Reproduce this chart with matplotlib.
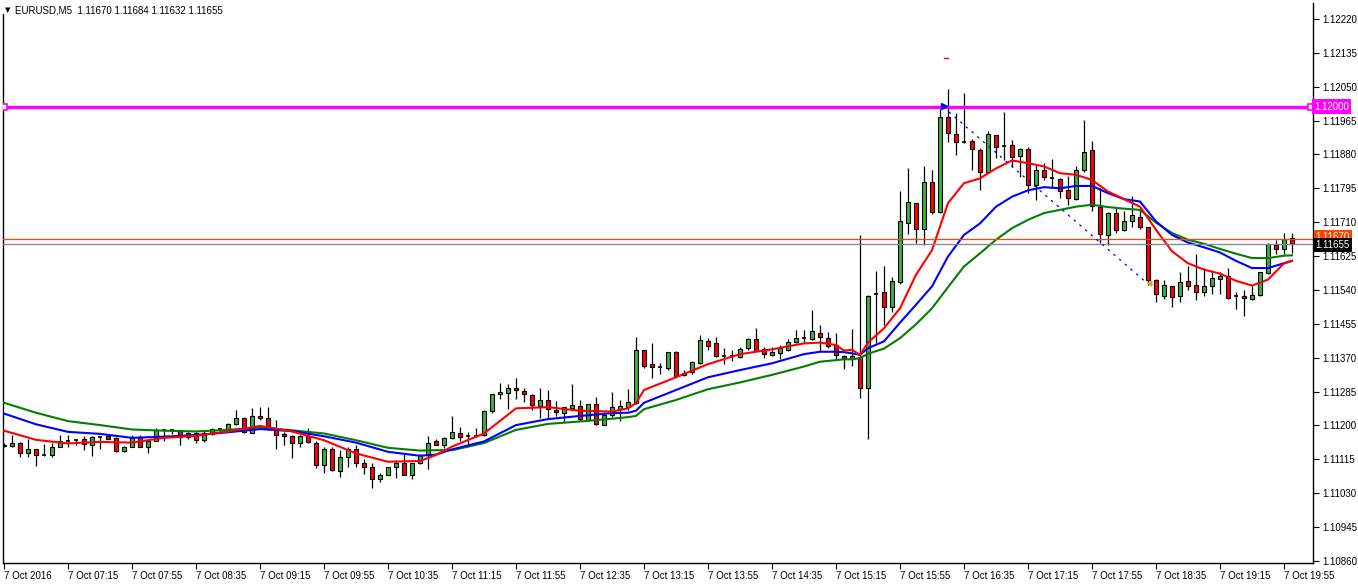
import matplotlib
matplotlib.use("Agg")
import matplotlib.pyplot as plt
import matplotlib.transforms as mtransforms
from matplotlib.patches import Rectangle
import numpy as np

plt.rcParams['font.family'] = ['Liberation Sans', 'DejaVu Sans']

# ---------------- data (EURUSD M5, bars from 06:35 to 20:00) ----------------
opens = [1.11148, 1.11148, 1.11157, 1.11130, 1.11140, 1.11125, 1.11126, 1.11147, 1.11162, 1.11163,
         1.11166, 1.11150, 1.11171, 1.11173, 1.11168, 1.11135, 1.11147, 1.11172, 1.11146, 1.11162,
         1.11188, 1.11188, 1.11188, 1.11171, 1.11181, 1.11163, 1.11178, 1.11190, 1.11188, 1.11203,
         1.11220, 1.11182, 1.11225, 1.11220, 1.11190, 1.11178, 1.11173, 1.11155, 1.11173, 1.11157,
         1.11100, 1.11142, 1.11085, 1.11122, 1.11141, 1.11107, 1.11095, 1.11065, 1.11077, 1.11095,
         1.11105, 1.11077, 1.11105, 1.11127, 1.11161, 1.11151, 1.11168, 1.11180, 1.11174, 1.11173,
         1.11175, 1.11237, 1.11278, 1.11281, 1.11293, 1.11287, 1.11276, 1.11248, 1.11263, 1.11239,
         1.11231, 1.11244, 1.11248, 1.11214, 1.11253, 1.11202, 1.11226, 1.11242, 1.11247, 1.11257,
         1.11389, 1.11354, 1.11346, 1.11345, 1.11384, 1.11326, 1.11333, 1.11356, 1.11413, 1.11407,
         1.11374, 1.11374, 1.11371, 1.11394, 1.11416, 1.11391, 1.11376, 1.11383, 1.11390, 1.11409,
         1.11419, 1.11416, 1.11433, 1.11420, 1.11401, 1.11374, 1.11369, 1.11373, 1.11294, 1.11529,
         1.11534, 1.11497, 1.11559, 1.11707, 1.11758, 1.11692, 1.11810, 1.11736, 1.11973, 1.11931,
         1.11912, 1.11913, 1.11891, 1.11837, 1.11928, 1.11900, 1.11903, 1.11875, 1.11893, 1.11803,
         1.11840, 1.11820, 1.11818, 1.11791, 1.11768, 1.11840, 1.11890, 1.11749, 1.11678, 1.11734,
         1.11691, 1.11712, 1.11724, 1.11697, 1.11566, 1.11526, 1.11549, 1.11524, 1.11562, 1.11552,
         1.11534, 1.11551, 1.11567, 1.11574, 1.11526, 1.11525, 1.11517, 1.11527, 1.11582, 1.11652,
         1.11642, 1.11670]
highs = [1.11155, 1.11176, 1.11158, 1.11165, 1.11141, 1.11153, 1.11157, 1.11175, 1.11176, 1.11167,
         1.11174, 1.11174, 1.11174, 1.11175, 1.11172, 1.11148, 1.11175, 1.11176, 1.11164, 1.11193,
         1.11189, 1.11190, 1.11188, 1.11183, 1.11183, 1.11187, 1.11193, 1.11193, 1.11205, 1.11239,
         1.11222, 1.11243, 1.11246, 1.11246, 1.11215, 1.11183, 1.11175, 1.11175, 1.11193, 1.11160,
         1.11145, 1.11145, 1.11138, 1.11145, 1.11150, 1.11115, 1.11105, 1.11081, 1.11097, 1.11113,
         1.11130, 1.11107, 1.11128, 1.11173, 1.11166, 1.11170, 1.11224, 1.11196, 1.11183, 1.11193,
         1.11239, 1.11280, 1.11306, 1.11303, 1.11319, 1.11293, 1.11278, 1.11293, 1.11289, 1.11262,
         1.11247, 1.11304, 1.11264, 1.11255, 1.11272, 1.11235, 1.11284, 1.11263, 1.11291, 1.11422,
         1.11390, 1.11406, 1.11358, 1.11385, 1.11388, 1.11339, 1.11362, 1.11427, 1.11419, 1.11423,
         1.11394, 1.11390, 1.11396, 1.11419, 1.11444, 1.11398, 1.11396, 1.11402, 1.11416, 1.11440,
         1.11440, 1.11490, 1.11453, 1.11435, 1.11431, 1.11377, 1.11441, 1.11678, 1.11527, 1.11588,
         1.11600, 1.11573, 1.11788, 1.11847, 1.11758, 1.11851, 1.11841, 1.11994, 1.12044, 1.11983,
         1.12035, 1.11918, 1.11895, 1.11940, 1.11929, 1.11987, 1.11916, 1.11895, 1.11898, 1.11854,
         1.11858, 1.11868, 1.11820, 1.11826, 1.11852, 1.11967, 1.11914, 1.11796, 1.11736, 1.11749,
         1.11739, 1.11775, 1.11741, 1.11699, 1.11567, 1.11566, 1.11551, 1.11586, 1.11599, 1.11631,
         1.11595, 1.11591, 1.11586, 1.11595, 1.11536, 1.11540, 1.11549, 1.11585, 1.11658, 1.11666,
         1.11683, 1.11684]
lows = [1.11145, 1.11147, 1.11121, 1.11121, 1.11099, 1.11123, 1.11120, 1.11146, 1.11146, 1.11151,
        1.11138, 1.11124, 1.11141, 1.11165, 1.11134, 1.11134, 1.11145, 1.11145, 1.11131, 1.11161,
        1.11162, 1.11178, 1.11151, 1.11167, 1.11157, 1.11158, 1.11177, 1.11182, 1.11186, 1.11201,
        1.11182, 1.11181, 1.11213, 1.11188, 1.11141, 1.11152, 1.11119, 1.11145, 1.11157, 1.11094,
        1.11082, 1.11086, 1.11071, 1.11096, 1.11096, 1.11078, 1.11042, 1.11057, 1.11075, 1.11069,
        1.11075, 1.11067, 1.11103, 1.11090, 1.11151, 1.11143, 1.11166, 1.11160, 1.11147, 1.11170,
        1.11173, 1.11232, 1.11267, 1.11241, 1.11266, 1.11260, 1.11238, 1.11219, 1.11218, 1.11224,
        1.11208, 1.11239, 1.11212, 1.11212, 1.11201, 1.11200, 1.11222, 1.11211, 1.11239, 1.11253,
        1.11345, 1.11319, 1.11330, 1.11339, 1.11323, 1.11324, 1.11329, 1.11354, 1.11389, 1.11373,
        1.11354, 1.11363, 1.11369, 1.11390, 1.11386, 1.11369, 1.11375, 1.11368, 1.11387, 1.11406,
        1.11406, 1.11414, 1.11387, 1.11394, 1.11367, 1.11341, 1.11350, 1.11268, 1.11166, 1.11408,
        1.11451, 1.11484, 1.11555, 1.11680, 1.11659, 1.11653, 1.11731, 1.11734, 1.11912, 1.11879,
        1.11908, 1.11841, 1.11791, 1.11834, 1.11872, 1.11866, 1.11849, 1.11824, 1.11784, 1.11766,
        1.11816, 1.11796, 1.11772, 1.11754, 1.11766, 1.11837, 1.11739, 1.11659, 1.11653, 1.11683,
        1.11689, 1.11699, 1.11693, 1.11553, 1.11511, 1.11517, 1.11497, 1.11511, 1.11540, 1.11515,
        1.11524, 1.11530, 1.11530, 1.11518, 1.11492, 1.11474, 1.11515, 1.11524, 1.11581, 1.11631,
        1.11631, 1.11632]
closes = [1.11151, 1.11157, 1.11130, 1.11140, 1.11125, 1.11126, 1.11147, 1.11162, 1.11162, 1.11164,
          1.11153, 1.11170, 1.11172, 1.11167, 1.11136, 1.11147, 1.11172, 1.11146, 1.11162, 1.11188,
          1.11188, 1.11189, 1.11171, 1.11180, 1.11163, 1.11181, 1.11190, 1.11188, 1.11203, 1.11220,
          1.11183, 1.11225, 1.11220, 1.11190, 1.11177, 1.11173, 1.11155, 1.11173, 1.11158, 1.11102,
          1.11142, 1.11088, 1.11122, 1.11141, 1.11107, 1.11095, 1.11065, 1.11077, 1.11096, 1.11105,
          1.11077, 1.11107, 1.11127, 1.11157, 1.11152, 1.11168, 1.11183, 1.11170, 1.11173, 1.11175,
          1.11237, 1.11278, 1.11284, 1.11293, 1.11288, 1.11278, 1.11251, 1.11263, 1.11241, 1.11233,
          1.11246, 1.11251, 1.11216, 1.11253, 1.11203, 1.11226, 1.11246, 1.11249, 1.11259, 1.11389,
          1.11350, 1.11346, 1.11346, 1.11384, 1.11325, 1.11331, 1.11359, 1.11414, 1.11400, 1.11375,
          1.11374, 1.11373, 1.11393, 1.11416, 1.11388, 1.11379, 1.11384, 1.11394, 1.11410, 1.11420,
          1.11420, 1.11436, 1.11423, 1.11400, 1.11376, 1.11369, 1.11374, 1.11293, 1.11525, 1.11529,
          1.11497, 1.11563, 1.11712, 1.11760, 1.11692, 1.11810, 1.11736, 1.11973, 1.11933, 1.11912,
          1.11912, 1.11893, 1.11837, 1.11931, 1.11898, 1.11899, 1.11873, 1.11893, 1.11803, 1.11841,
          1.11823, 1.11819, 1.11789, 1.11770, 1.11840, 1.11887, 1.11751, 1.11681, 1.11734, 1.11691,
          1.11712, 1.11727, 1.11697, 1.11566, 1.11530, 1.11552, 1.11522, 1.11561, 1.11551, 1.11535,
          1.11549, 1.11570, 1.11574, 1.11520, 1.11526, 1.11520, 1.11527, 1.11585, 1.11655, 1.11642,
          1.11669, 1.11655]

# moving-average lines at these bar positions
ma_bars = [0, 4, 8, 12, 16, 20, 24, 28, 32, 36, 40, 44, 48, 52, 54, 56, 60, 64, 68, 72, 76, 78, 79, 80,
           84, 88, 92, 96, 100, 102, 104, 105, 106, 107, 108, 110, 112, 114, 116, 118, 120, 122, 124,
           126, 128, 130, 132, 134, 136, 138, 140, 142, 144, 146, 148, 150, 152, 154, 156, 158, 160, 161]
ma_red = [1.11187, 1.11164, 1.11155, 1.11159, 1.11157, 1.11169, 1.11174, 1.11185, 1.11199, 1.11185,
          1.11163, 1.11130, 1.11109, 1.11111, 1.11126, 1.11147, 1.11180, 1.11243, 1.11246, 1.11237,
          1.11235, 1.11243, 1.11256, 1.11289, 1.11321, 1.11354, 1.11379, 1.11391, 1.11406, 1.11408,
          1.11402, 1.11388, 1.11390, 1.11377, 1.11408, 1.11444, 1.11494, 1.11578, 1.11640, 1.11758,
          1.11808, 1.11820, 1.11845, 1.11865, 1.11858, 1.11850, 1.11833, 1.11829, 1.11816, 1.11787,
          1.11768, 1.11749, 1.11691, 1.11637, 1.11607, 1.11591, 1.11581, 1.11563, 1.11551, 1.11566,
          1.11607, 1.11613]
ma_blue = [1.11230, 1.11203, 1.11184, 1.11179, 1.11169, 1.11172, 1.11176, 1.11183, 1.11191, 1.11186,
           1.11173, 1.11157, 1.11134, 1.11124, 1.11127, 1.11140, 1.11160, 1.11201, 1.11216, 1.11224,
           1.11231, 1.11232, 1.11237, 1.11257, 1.11289, 1.11321, 1.11339, 1.11356, 1.11379, 1.11385,
           1.11385, 1.11384, 1.11381, 1.11377, 1.11394, 1.11411, 1.11458, 1.11503, 1.11549, 1.11624,
           1.11678, 1.11707, 1.11749, 1.11774, 1.11790, 1.11798, 1.11795, 1.11801, 1.11801, 1.11783,
           1.11768, 1.11762, 1.11712, 1.11678, 1.11659, 1.11647, 1.11634, 1.11613, 1.11595, 1.11595,
           1.11607, 1.11613]
ma_green = [1.11257, 1.11232, 1.11211, 1.11201, 1.11190, 1.11187, 1.11185, 1.11189, 1.11195, 1.11188,
            1.11180, 1.11163, 1.11144, 1.11137, 1.11138, 1.11138, 1.11156, 1.11189, 1.11204, 1.11210,
            1.11217, 1.11221, 1.11224, 1.11241, 1.11264, 1.11291, 1.11308, 1.11327, 1.11348, 1.11360,
            1.11364, 1.11366, 1.11366, 1.11369, 1.11380, 1.11393, 1.11419, 1.11454, 1.11494, 1.11547,
            1.11599, 1.11632, 1.11666, 1.11695, 1.11716, 1.11733, 1.11741, 1.11749, 1.11754, 1.11748,
            1.11744, 1.11741, 1.11709, 1.11683, 1.11666, 1.11656, 1.11643, 1.11631, 1.11620, 1.11620,
            1.11626, 1.11627]

price_ticks = [1.10860, 1.10945, 1.11030, 1.11115, 1.11200, 1.11285, 1.11370, 1.11455, 1.11540,
               1.11625, 1.11710, 1.11795, 1.11880, 1.11965, 1.12050, 1.12135, 1.12220]
time_tick_bars = [0, 8, 16, 24, 32, 40, 48, 56, 64, 72, 80, 88, 96, 104, 112, 120, 128, 136, 144, 152, 160]
time_tick_labels = ["7 Oct 2016", "7 Oct 07:15", "7 Oct 07:55", "7 Oct 08:35", "7 Oct 09:15",
                    "7 Oct 09:55", "7 Oct 10:35", "7 Oct 11:15", "7 Oct 11:55", "7 Oct 12:35",
                    "7 Oct 13:15", "7 Oct 13:55", "7 Oct 14:35", "7 Oct 15:15", "7 Oct 15:55",
                    "7 Oct 16:35", "7 Oct 17:15", "7 Oct 17:55", "7 Oct 18:35", "7 Oct 19:15",
                    "7 Oct 19:55"]
level_line = 1.12000
ask_price = 1.11667
bid_price = 1.11655
trend_bars = [117.4, 142.9]
trend_prices = [1.11999, 1.11557]
title = "EURUSD,M5  1.11670 1.11684 1.11632 1.11655"

# ---------------- figure ----------------
W, H = 1358, 584
fig = plt.figure(figsize=(W / 100, H / 100), dpi=100)
fig.patch.set_facecolor('white')
ax = fig.add_axes([3 / W, 1 - 563 / H, (1313 - 3) / W, (563 - 3) / H])
ax.set_xlim(-0.125, 163.625)
ax.set_ylim(1.10855, 1.12260)

x = np.arange(len(opens))
o = np.array(opens); h = np.array(highs); l = np.array(lows); c = np.array(closes)

GREEN = '#2EB82E'
RED = '#FF0000'

ax.vlines(x, l, h, color='black', lw=0.9, zorder=2)
body_w = 0.62
for i in range(len(x)):
    if abs(c[i] - o[i]) < 0.000025:
        ax.hlines(o[i], x[i] - body_w / 2, x[i] + body_w / 2, color='black', lw=1.2, zorder=3)
    else:
        bottom = min(o[i], c[i])
        ax.bar(x[i], abs(c[i] - o[i]), bottom=bottom, width=body_w,
               color=GREEN if c[i] > o[i] else RED, edgecolor='black', lw=0.8, zorder=3)

ax.plot(ma_bars, ma_green, color='#008000', lw=1.5, zorder=4)
ax.plot(ma_bars, ma_blue, color='#0000FF', lw=1.5, zorder=4)
ax.plot(ma_bars, ma_red, color='#FF0000', lw=1.5, zorder=4)

# horizontal level, ask and bid lines
ax.axhline(level_line, color='#FF00FF', lw=2.4, zorder=5)
ax.plot([0.05, 163.4], [level_line, level_line], ls='none', marker='s', ms=4,
        mfc='white', mec='#FF00FF', mew=1.2, zorder=6)
ax.axhline(ask_price, color='#FF4500', lw=0.9, zorder=5)
ax.axhline(bid_price, color='#778899', lw=0.9, zorder=5)

# trend line with its markers
ax.plot(trend_bars, trend_prices, color='#0000FF', lw=0.9, ls=(0, (2, 4)), zorder=5)
ax.plot(trend_bars[0] + 0.1, trend_prices[0] + 0.00002, marker='>', color='#0000FF', ms=4, zorder=6)
ax.plot(trend_bars[1] + 0.35, trend_prices[1], marker=(3, 0, -30), color='#DAA520', ms=4, zorder=6)
ax.plot([117.45, 118.05], [1.12122, 1.12122], color='#FF0000', lw=1.0, zorder=5)

# axes styling (no top border)
for s in ax.spines.values():
    s.set_color('black')
    s.set_linewidth(1.0)
ax.spines['top'].set_visible(False)
ax.yaxis.tick_right()
ax.set_yticks(price_ticks)
ax.set_yticklabels([f"{p:.5f}" for p in price_ticks])
ax.tick_params(axis='y', direction='out', length=4, width=0.8, labelsize=7, pad=3, colors='black')
ax.set_xticks(time_tick_bars)
ax.set_xticklabels(time_tick_labels)
ax.tick_params(axis='x', direction='out', length=4, width=0.8, labelsize=7, pad=2, colors='black')
for lab in ax.get_xticklabels():
    lab.set_horizontalalignment('left')

# price labels on the right axis
tr = mtransforms.blended_transform_factory(ax.transAxes, ax.transData)
ax.text(1.001, level_line, "1.12000", transform=tr, va='center', ha='left', fontsize=7,
        color='white', bbox=dict(facecolor='#FF00FF', edgecolor='none', pad=1.6), zorder=10, clip_on=False)
ax.text(1.002, ask_price + 0.00005, "1.11670", transform=tr, va='center', ha='left', fontsize=7,
        color='white', bbox=dict(facecolor='#FF4500', edgecolor='none', pad=1.4), zorder=10, clip_on=False)
ax.text(1.002, bid_price - 0.00003, "1.11655", transform=tr, va='center', ha='left', fontsize=7,
        color='white', bbox=dict(facecolor='black', edgecolor='none', pad=1.4), zorder=11, clip_on=False)

# title on a white strip that hides the top of the left border
fig.patches.append(Rectangle((0, 1 - 14 / H), 226 / W, 14 / H, transform=fig.transFigure,
                             facecolor='white', edgecolor='none', zorder=20))
fig.text(5 / W, 1 - 10.5 / H, "\u25BC", fontsize=5, family='DejaVu Sans', va='center', ha='left', zorder=21)
fig.text(15 / W, 1 - 10.5 / H, title, fontsize=7, va='center', ha='left', zorder=21)

fig.savefig("out.png", dpi=100)
